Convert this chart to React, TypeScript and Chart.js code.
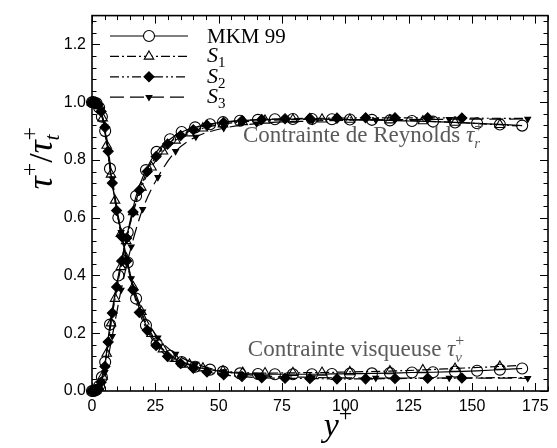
import React, { useEffect, useRef } from "react";
import { Chart, registerables } from "chart.js";
Chart.register(...registerables);

// ---------- data ----------
const X_TICKS = [0, 25, 50, 75, 100, 125, 150, 175];
const Y_TICKS = [0, 0.2, 0.4, 0.6, 0.8, 1.0, 1.2];

const MKM_X = [0, 0.4, 1.0, 1.8, 2.8, 3.9, 5.2, 7.1, 10.4, 14.1, 17.4, 21.3, 25.5, 30.8, 35.4, 40.7, 46.6, 51.7, 58.4, 65.5, 72.2, 79.3, 86.8, 94.7, 101.8, 110.5, 117.6, 126.3, 134.6, 143.3, 152.0, 161.0, 169.8];
const MKM_VISC = [1.0, 1.0, 0.999, 0.996, 0.982, 0.95, 0.90, 0.77, 0.60, 0.445, 0.32, 0.228, 0.165, 0.122, 0.10, 0.084, 0.074, 0.067, 0.061, 0.059, 0.058, 0.058, 0.058, 0.059, 0.060, 0.061, 0.062, 0.064, 0.065, 0.067, 0.070, 0.074, 0.078];
const MKM_REY = [0, 0, 0.001, 0.004, 0.017, 0.048, 0.10, 0.23, 0.40, 0.55, 0.675, 0.765, 0.828, 0.872, 0.897, 0.913, 0.924, 0.931, 0.936, 0.939, 0.941, 0.942, 0.942, 0.941, 0.940, 0.939, 0.937, 0.935, 0.933, 0.930, 0.927, 0.923, 0.919];

const S1_X = [0, 0.6, 1.5, 2.8, 4.2, 5.8, 7.5, 9.1, 11.4, 13.5, 16.3, 19.5, 23.5, 28.0, 33.0, 38.5, 43.8, 51.7, 59.5, 68.3, 79.3, 90.8, 101.8, 117.6, 130.6, 143.3, 161.0, 168.0];
const S1_VISC = [1.0, 1.0, 0.998, 0.988, 0.945, 0.85, 0.75, 0.66, 0.545, 0.46, 0.36, 0.275, 0.198, 0.145, 0.112, 0.092, 0.079, 0.069, 0.064, 0.062, 0.063, 0.064, 0.066, 0.069, 0.073, 0.078, 0.085, 0.088];
const S1_REY = [0, 0, 0.002, 0.012, 0.05, 0.13, 0.235, 0.32, 0.43, 0.52, 0.62, 0.705, 0.775, 0.83, 0.868, 0.893, 0.91, 0.924, 0.932, 0.937, 0.94, 0.941, 0.94, 0.938, 0.935, 0.93, 0.922, 0.918];

const S2_X = [0, 0.5, 1.3, 2.4, 3.6, 5.1, 6.4, 8.0, 9.7, 11.7, 13.7, 16.2, 18.7, 21.8, 25.3, 29.8, 35.0, 40.0, 45.4, 52.0, 59.2, 67.0, 76.2, 86.0, 96.7, 108.0, 119.6, 132.5, 146.0, 172.0];
const S2_VISC = [1.0, 1.0, 0.999, 0.992, 0.968, 0.913, 0.83, 0.72, 0.625, 0.535, 0.45, 0.35, 0.272, 0.21, 0.158, 0.12, 0.095, 0.079, 0.066, 0.056, 0.05, 0.046, 0.044, 0.043, 0.042, 0.042, 0.043, 0.044, 0.045, 0.047];
const S2_REY = [0, 0, 0.001, 0.007, 0.03, 0.085, 0.17, 0.27, 0.36, 0.45, 0.53, 0.62, 0.695, 0.76, 0.812, 0.855, 0.885, 0.905, 0.92, 0.93, 0.936, 0.94, 0.943, 0.944, 0.945, 0.946, 0.946, 0.946, 0.945, 0.944];

const S3_X = [0, 1.0, 2.5, 5.1, 8.0, 11.5, 15.5, 20.0, 26.0, 33.0, 41.0, 52.0, 65.0, 87.0, 112.0, 141.0, 172.0];
const S3_VISC = [1.0, 1.0, 0.99, 0.915, 0.735, 0.55, 0.39, 0.275, 0.185, 0.128, 0.094, 0.068, 0.054, 0.047, 0.045, 0.045, 0.044];
const S3_REY = [0, 0, 0.005, 0.065, 0.19, 0.35, 0.5, 0.63, 0.74, 0.83, 0.88, 0.91, 0.926, 0.935, 0.939, 0.941, 0.942];

const LEGEND_MAIN = ["MKM 99", "S", "S", "S"];
const LEGEND_SUB = ["", "1", "2", "3"];

const ANNOT_REY = "Contrainte de Reynolds ";
const ANNOT_VISC = "Contrainte visqueuse ";

// ---------- styles ----------
const SERIF = '"Liberation Serif", "DejaVu Serif", serif';
const SANS = '"Liberation Sans", Arial, sans-serif';
const GRAY = "#5a5a5a";

type Style = {
  dash: number[];
  pointStyle: string;
  radius: number;
  filled: boolean;
  rotation: number;
};
const STYLES: Style[] = [
  { dash: [], pointStyle: "circle", radius: 5.5, filled: false, rotation: 0 },
  { dash: [9, 3, 2, 3], pointStyle: "triangle", radius: 5.5, filled: false, rotation: 0 },
  { dash: [9, 3, 2, 3, 2, 3], pointStyle: "rectRot", radius: 5, filled: true, rotation: 0 },
  { dash: [14, 6], pointStyle: "triangle", radius: 3.3, filled: true, rotation: 180 },
];

const pts = (xs: number[], ys: number[]) => xs.map((x, i) => ({ x, y: ys[i] }));

type Part = { t: string; f: string; dy?: number; stack?: boolean };

function drawRich(ctx: CanvasRenderingContext2D, x0: number, y0: number, parts: Part[], align: "left" | "center", color: string) {
  const measure = () => {
    let x = 0;
    let sw = 0;
    for (const p of parts) {
      ctx.font = p.f;
      const w = ctx.measureText(p.t).width;
      if (p.stack) {
        sw = w;
      } else {
        x += Math.max(w, sw);
        sw = 0;
      }
    }
    return x;
  };
  const total = measure();
  let x = align === "center" ? x0 - total / 2 : x0;
  let sw = 0;
  ctx.fillStyle = color;
  ctx.textAlign = "left";
  ctx.textBaseline = "alphabetic";
  for (const p of parts) {
    ctx.font = p.f;
    const w = ctx.measureText(p.t).width;
    ctx.fillText(p.t, x, y0 + (p.dy || 0));
    if (p.stack) {
      sw = w;
    } else {
      x += Math.max(w, sw);
      sw = 0;
    }
  }
}

function drawMarker(ctx: CanvasRenderingContext2D, s: Style, x: number, y: number) {
  ctx.save();
  ctx.setLineDash([]);
  ctx.lineWidth = 1.1;
  ctx.strokeStyle = "#000";
  ctx.fillStyle = "#000";
  ctx.beginPath();
  const r = s.radius;
  if (s.pointStyle === "circle") {
    ctx.arc(x, y, r, 0, Math.PI * 2);
  } else if (s.pointStyle === "triangle") {
    const base = (s.rotation * Math.PI) / 180;
    for (let k = 0; k < 3; k++) {
      const a = base + (k * 2 * Math.PI) / 3;
      const px = x + Math.sin(a) * r;
      const py = y - Math.cos(a) * r;
      if (k === 0) ctx.moveTo(px, py);
      else ctx.lineTo(px, py);
    }
    ctx.closePath();
  } else {
    ctx.moveTo(x, y - r);
    ctx.lineTo(x + r, y);
    ctx.lineTo(x, y + r);
    ctx.lineTo(x - r, y);
    ctx.closePath();
  }
  if (s.filled) ctx.fill();
  else {
    ctx.fillStyle = "#fff";
    ctx.fill();
  }
  ctx.stroke();
  ctx.restore();
}

const framePlugin = {
  id: "frameTicks",
  beforeDatasetsDraw(chart: any) {
    const { ctx, chartArea, scales } = chart;
    const { left, right, top, bottom } = chartArea;
    const xs = scales.x;
    const ys = scales.y;
    ctx.save();
    ctx.strokeStyle = "#000";
    ctx.lineWidth = 1;
    ctx.setLineDash([]);
    ctx.beginPath();
    for (let v = 0; v <= 180; v += 5) {
      const px = Math.round(xs.getPixelForValue(v)) + 0.5;
      const len = v % 25 === 0 ? 8 : 4.5;
      ctx.moveTo(px, bottom);
      ctx.lineTo(px, bottom - len);
      ctx.moveTo(px, top);
      ctx.lineTo(px, top + len);
    }
    for (let k = 0; k <= 32; k++) {
      const v = k * 0.04;
      const py = Math.round(ys.getPixelForValue(v)) + 0.5;
      const len = k % 5 === 0 ? 8 : 4.5;
      ctx.moveTo(left, py);
      ctx.lineTo(left + len, py);
      ctx.moveTo(right, py);
      ctx.lineTo(right - len, py);
    }
    ctx.stroke();
    ctx.lineWidth = 1.6;
    ctx.strokeRect(left, top, right - left, bottom - top);
    ctx.restore();
  },
  afterDraw(chart: any) {
    const { ctx, scales } = chart;
    const xs = scales.x;
    const ys = scales.y;
    ctx.save();

    // legend
    const lx0 = 110;
    const lx1 = 188;
    const mx = 149;
    const tx = 207;
    for (let i = 0; i < 4; i++) {
      const s = STYLES[i];
      const yy = 36 + i * 20.4;
      ctx.strokeStyle = "#000";
      ctx.lineWidth = 1.2;
      ctx.setLineDash(s.dash);
      ctx.beginPath();
      ctx.moveTo(lx0, yy);
      ctx.lineTo(lx1, yy);
      ctx.stroke();
      ctx.setLineDash([]);
      drawMarker(ctx, s, mx, yy);
      if (LEGEND_SUB[i]) {
        drawRich(ctx, tx, yy + 6, [
          { t: LEGEND_MAIN[i], f: `italic 22px ${SERIF}` },
          { t: LEGEND_SUB[i], f: `15px ${SERIF}`, dy: 5 },
        ], "left", "#000");
      } else {
        drawRich(ctx, tx, yy + 7, [{ t: LEGEND_MAIN[i], f: `21px ${SERIF}` }], "left", "#000");
      }
    }

    // annotations
    drawRich(ctx, xs.getPixelForValue(59.6), ys.getPixelForValue(0.862), [
      { t: ANNOT_REY, f: `23px ${SERIF}` },
      { t: "τ", f: `italic 23px ${SERIF}` },
      { t: "r", f: `italic 15px ${SERIF}`, dy: 6, stack: true },
      { t: "+", f: `16px ${SERIF}`, dy: -10 },
    ], "left", GRAY);
    drawRich(ctx, xs.getPixelForValue(61.5), ys.getPixelForValue(0.122), [
      { t: ANNOT_VISC, f: `23px ${SERIF}` },
      { t: "τ", f: `italic 23px ${SERIF}` },
      { t: "ν", f: `italic 15px ${SERIF}`, dy: 6, stack: true },
      { t: "+", f: `16px ${SERIF}`, dy: -10 },
    ], "left", GRAY);

    // x title
    drawRich(ctx, 338, 436, [
      { t: "y", f: `italic 34px ${SERIF}` },
      { t: "+", f: `24px ${SERIF}`, dy: -15 },
    ], "center", "#000");

    // y title
    ctx.save();
    ctx.translate(52, 158);
    ctx.rotate(-Math.PI / 2);
    drawRich(ctx, 0, 0, [
      { t: "τ", f: `italic 36px ${SERIF}` },
      { t: "+", f: `24px ${SERIF}`, dy: -15 },
      { t: "/", f: `34px ${SERIF}` },
      { t: "τ", f: `italic 36px ${SERIF}` },
      { t: "t", f: `italic 22px ${SERIF}`, dy: 7, stack: true },
      { t: "+", f: `24px ${SERIF}`, dy: -15 },
    ], "center", "#000");
    ctx.restore();

    ctx.restore();
  },
};

function makeDataset(xs: number[], ys: number[], s: Style, hideLast: boolean) {
  const radii = xs.map((_, i) => (hideLast && i === xs.length - 1 ? 0 : s.radius));
  return {
    data: pts(xs, ys),
    borderColor: "#000",
    borderWidth: 1.2,
    borderDash: s.dash,
    pointStyle: s.pointStyle,
    pointRadius: radii,
    pointRotation: s.rotation,
    pointBorderColor: "#000",
    pointBorderWidth: 1.1,
    pointBackgroundColor: s.filled ? "#000" : "rgba(0,0,0,0)",
    fill: false,
    cubicInterpolationMode: "monotone",
    clip: false,
  };
}

export default function App() {
  const ref = useRef<HTMLCanvasElement | null>(null);
  useEffect(() => {
    if (!ref.current) return;
    const datasets = [
      makeDataset(MKM_X, MKM_VISC, STYLES[0], false),
      makeDataset(MKM_X, MKM_REY, STYLES[0], false),
      makeDataset(S1_X, S1_VISC, STYLES[1], true),
      makeDataset(S1_X, S1_REY, STYLES[1], true),
      makeDataset(S2_X, S2_VISC, STYLES[2], true),
      makeDataset(S2_X, S2_REY, STYLES[2], true),
      makeDataset(S3_X, S3_VISC, STYLES[3], false),
      makeDataset(S3_X, S3_REY, STYLES[3], false),
    ];
    const chart = new Chart(ref.current, {
      type: "line",
      data: { datasets: datasets as any },
      plugins: [framePlugin as any],
      options: {
        animation: false,
        responsive: false,
        devicePixelRatio: 1,
        layout: { padding: { left: 0, right: 9, top: 8, bottom: 0 } },
        plugins: { legend: { display: false }, tooltip: { enabled: false } },
        scales: {
          x: {
            type: "linear",
            min: 0,
            max: 180,
            grid: { display: false, drawTicks: false },
            border: { display: false },
            afterBuildTicks: (sc: any) => {
              sc.ticks = X_TICKS.map((v) => ({ value: v }));
            },
            afterFit: (sc: any) => {
              sc.height = 57;
            },
            ticks: {
              padding: 6,
              color: "#000",
              font: { family: SANS, size: 16 },
              maxRotation: 0,
              autoSkip: false,
              callback: (v: any) => String(v),
            },
          },
          y: {
            type: "linear",
            min: 0,
            max: 1.3,
            grid: { display: false, drawTicks: false },
            border: { display: false },
            afterBuildTicks: (sc: any) => {
              sc.ticks = Y_TICKS.map((v) => ({ value: v }));
            },
            afterFit: (sc: any) => {
              sc.width = 92;
            },
            ticks: {
              padding: 6,
              color: "#000",
              font: { family: SANS, size: 16 },
              autoSkip: false,
              callback: (v: any) => Number(v).toFixed(1),
            },
          },
        },
      } as any,
    });
    return () => chart.destroy();
  }, []);
  return (
    <div style={{ position: "absolute", left: 0, top: 0, width: 557, height: 448 }}>
      <canvas ref={ref} width={557} height={448} style={{ display: "block" }} />
    </div>
  );
}
